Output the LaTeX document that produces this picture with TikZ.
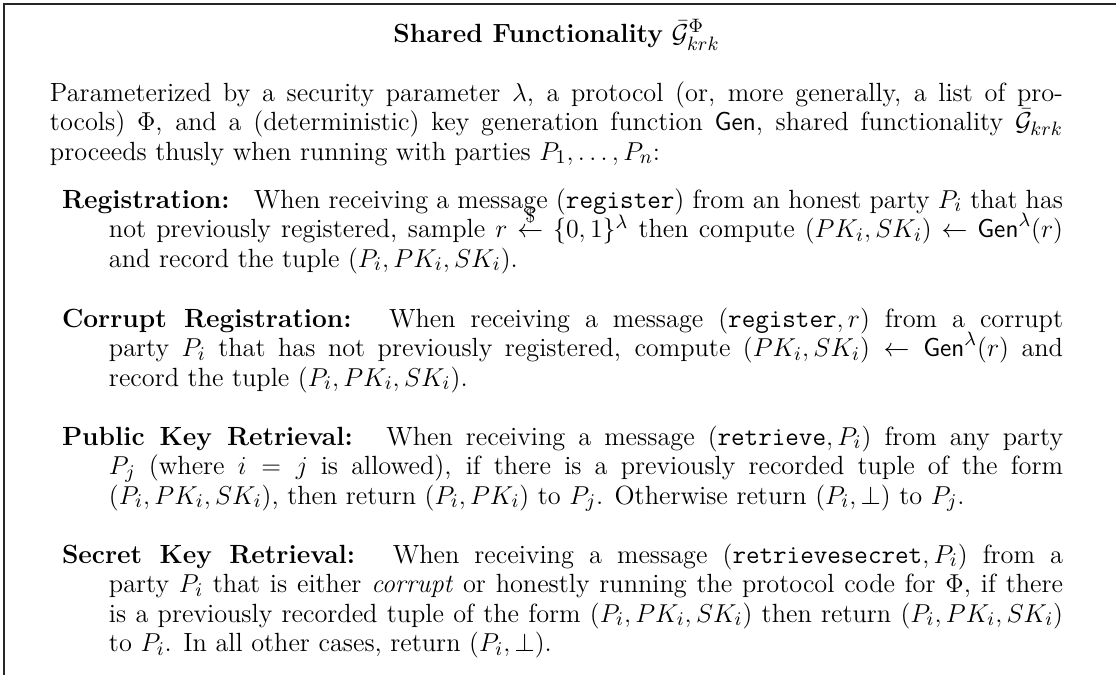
\documentclass[tikz,border=0pt]{standalone}
\usepackage{amsmath,amssymb}
\tikzset{
  tline/.style={anchor=base west, inner sep=0pt, outer sep=0pt, font=\fontsize{12.2}{14}\selectfont},
  ttitle/.style={anchor=base, inner sep=0pt, outer sep=0pt, font=\fontsize{12.2}{14}\selectfont},
  frameline/.style={line width=0.6pt, black!85}
}
\newcommand{\jl}[2]{\makebox[#1][s]{#2}}
\newcommand{\Gbar}{\bar{\mathcal{G}}}
\newcommand{\Gen}{\mathsf{Gen}}
\begin{document}
\begin{tikzpicture}[x=0.4636pt,y=-0.4636pt]
\useasboundingbox (0,0) rectangle (1116,675);
% frame
\coordinate (fb) at (4,675);
\coordinate (fc) at (4,4);
\coordinate (fr) at (1116,4);
\draw[frameline] (fb) -- (fc) -- (fr);
% title
\node[ttitle] (title) at (556.5,42) {\textbf{Shared Functionality} $\Gbar^{\Phi}_{krk}$};
% intro
\node[tline] (i1) at (50,101) {\jl{469.6pt}{Parameterized by a security parameter $\lambda$, a protocol (or, more generally, a list of pro-}};
\node[tline] (i2) at (50,130.5) {\jl{469.6pt}{tocols) $\Phi$, and a (deterministic) key generation function $\Gen$, shared functionality $\Gbar_{krk}$}};
\node[tline] (i3) at (50,160) {proceeds thusly when running with parties $P_1,\ldots,P_n$:};
% registration
\node[tline] (r1) at (62,208) {\jl{464.1pt}{\textbf{Registration:}\hspace{0.5em} When receiving a message (\texttt{register}) from an honest party $P_i$ that has}};
\node[tline] (r2) at (109,237.5) {\jl{442.3pt}{not previously registered, sample $r \overset{\$}{\leftarrow} \{0,1\}^\lambda$ then compute $(PK_i, SK_i) \leftarrow \Gen^\lambda(r)$}};
\node[tline] (r3) at (109,267) {and record the tuple $(P_i, PK_i, SK_i)$.};
% corrupt registration
\node[tline] (c1) at (62,327) {\jl{464.1pt}{\textbf{Corrupt Registration:}\hspace{0.5em} When receiving a message $(\texttt{register}, r)$ from a corrupt}};
\node[tline] (c2) at (109,356.5) {\jl{442.3pt}{party $P_i$ that has not previously registered, compute $(PK_i, SK_i) \leftarrow \Gen^\lambda(r)$ and}};
\node[tline] (c3) at (109,386) {record the tuple $(P_i, PK_i, SK_i)$.};
% public key retrieval
\node[tline] (p1) at (62,445) {\jl{464.1pt}{\textbf{Public Key Retrieval:}\hspace{0.5em} When receiving a message $(\texttt{retrieve}, P_i)$ from any party}};
\node[tline] (p2) at (109,474.5) {\jl{442.3pt}{$P_j$ (where $i = j$ is allowed), if there is a previously recorded tuple of the form}};
\node[tline] (p3) at (109,504) {$(P_i, PK_i, SK_i)$, then return $(P_i, PK_i)$ to $P_j$. Otherwise return $(P_i, \bot)$ to $P_j$.};
% secret key retrieval
\node[tline] (s1) at (62,563) {\jl{464.1pt}{\textbf{Secret Key Retrieval:}\hspace{0.5em} When receiving a message $(\texttt{retrievesecret}, P_i)$ from a}};
\node[tline] (s2) at (109,592.5) {\jl{442.3pt}{party $P_i$ that is either \emph{corrupt} or honestly running the protocol code for $\Phi$, if there}};
\node[tline] (s3) at (109,622) {\jl{442.3pt}{is a previously recorded tuple of the form $(P_i, PK_i, SK_i)$ then return $(P_i, PK_i, SK_i)$}};
\node[tline] (s4) at (109,651.5) {to $P_i$. In all other cases, return $(P_i, \bot)$.};
\end{tikzpicture}
\end{document}
